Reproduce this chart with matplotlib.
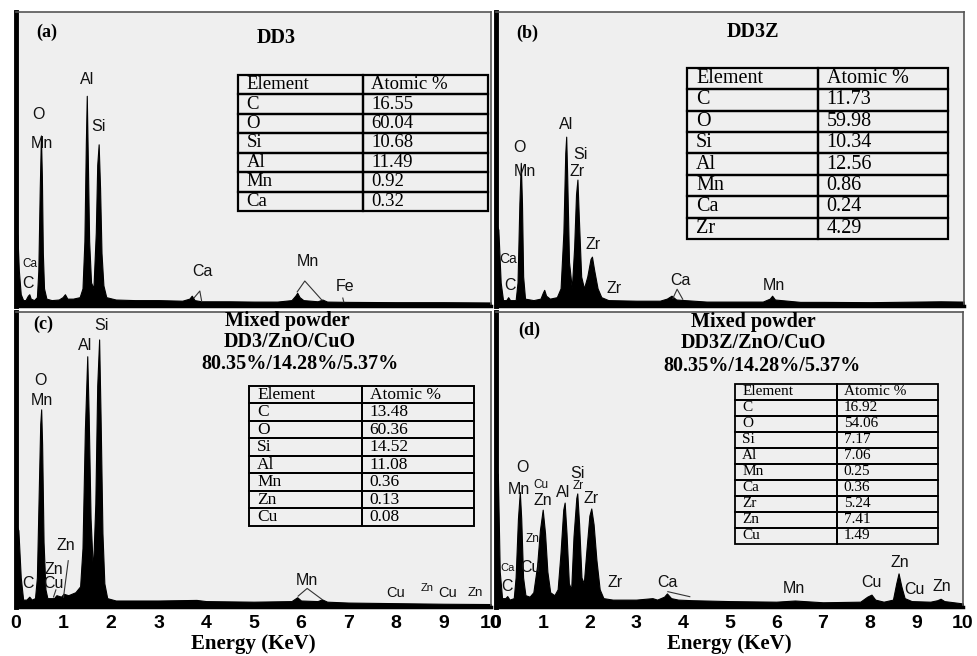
import matplotlib.pyplot as plt

plt.rcParams['font.family'] = ['Liberation Sans', 'DejaVu Sans']
SERIF = ['Liberation Serif', 'DejaVu Serif']

W, H = 977, 656

# EDS spectra, (energy keV, counts)
spec_a = [(0.0, 26), (0.03, 24), (0.06, 12), (0.10, 4), (0.15, 2), (0.20, 2), (0.25, 3.5), (0.28, 4),
          (0.31, 2.5), (0.38, 2), (0.44, 3), (0.47, 12), (0.50, 40), (0.525, 58), (0.545, 44), (0.565, 18),
          (0.59, 6), (0.64, 2.5), (0.75, 2), (0.90, 2.2), (0.98, 3), (1.03, 4), (1.08, 2.5), (1.20, 2.5),
          (1.34, 3), (1.40, 6), (1.44, 22), (1.47, 55), (1.49, 71.5), (1.51, 52), (1.54, 22), (1.58, 8),
          (1.63, 6), (1.68, 25), (1.71, 48), (1.74, 55), (1.77, 40), (1.80, 18), (1.84, 7), (1.90, 3),
          (2.1, 2.2), (2.5, 2), (3.0, 2), (3.5, 1.8), (3.65, 2.5), (3.70, 3.5), (3.76, 2), (3.9, 1.6),
          (4.5, 1.6), (5.0, 1.5), (5.5, 1.5), (5.8, 2), (5.88, 3.5), (5.92, 4.5), (5.97, 3), (6.05, 2),
          (6.35, 1.6), (6.45, 2.2), (6.55, 1.5), (7.0, 1.4), (8.0, 1.3), (9.0, 1.3), (10.0, 1.2)]
spec_b = [(0.0, 28), (0.05, 26), (0.10, 8), (0.15, 2), (0.22, 2), (0.26, 3), (0.30, 2), (0.42, 2),
          (0.46, 8), (0.50, 35), (0.53, 48.7), (0.555, 35), (0.58, 10), (0.62, 2.5), (0.80, 2), (0.95, 2.5),
          (1.0, 4.5), (1.03, 5.5), (1.07, 3.5), (1.15, 2.5), (1.30, 3), (1.38, 6), (1.44, 25), (1.48, 52),
          (1.50, 57.6), (1.52, 45), (1.56, 15), (1.62, 6), (1.67, 20), (1.71, 38), (1.74, 43), (1.77, 30),
          (1.82, 10), (1.88, 6), (1.95, 10), (2.02, 16), (2.05, 16.8), (2.10, 12), (2.17, 6), (2.25, 3),
          (2.4, 2), (3.0, 1.8), (3.5, 1.8), (3.65, 2.5), (3.75, 3.5), (3.85, 2.2), (4.5, 1.5), (5.0, 1.5),
          (5.7, 1.5), (5.85, 2.5), (5.90, 3.5), (5.96, 2.2), (6.5, 1.4), (7.0, 1.4), (8.0, 1.3), (9.0, 1.5),
          (9.5, 1.6), (10.0, 1.5)]
spec_c = [(0.0, 28), (0.05, 26), (0.10, 10), (0.15, 2.5), (0.22, 2.5), (0.28, 3.5), (0.33, 2.5), (0.40, 3),
          (0.44, 10), (0.48, 40), (0.51, 62), (0.53, 67), (0.55, 55), (0.58, 22), (0.62, 6), (0.66, 3),
          (0.80, 3), (0.85, 4), (0.95, 3.5), (1.0, 4.5), (1.10, 4), (1.25, 5), (1.35, 7), (1.40, 20),
          (1.45, 60), (1.50, 85), (1.53, 65), (1.57, 30), (1.62, 12), (1.67, 35), (1.71, 75), (1.75, 90.7),
          (1.78, 65), (1.82, 25), (1.86, 8), (1.92, 3), (2.1, 2.2), (3.0, 2.2), (3.8, 2.4), (4.0, 2),
          (5.0, 1.8), (5.8, 2), (5.92, 3.3), (6.0, 2.2), (6.35, 2), (6.44, 2.6), (6.55, 1.8), (7.0, 1.5),
          (8.0, 1.3), (9.0, 1.1), (10.0, 1.0)]
spec_d = [(0.0, 46), (0.04, 45), (0.08, 12), (0.13, 3), (0.20, 3), (0.24, 3.7), (0.29, 2.5), (0.38, 3),
          (0.42, 10), (0.47, 30), (0.51, 39), (0.54, 30), (0.58, 10), (0.63, 4), (0.72, 3.5), (0.80, 5),
          (0.88, 14), (0.94, 26), (1.0, 33), (1.05, 25), (1.10, 12), (1.16, 5), (1.25, 4), (1.32, 6),
          (1.38, 18), (1.44, 33), (1.47, 35.4), (1.51, 25), (1.56, 8), (1.61, 6), (1.66, 24), (1.72, 37),
          (1.74, 38.5), (1.78, 28), (1.83, 10), (1.88, 8), (1.94, 20), (2.0, 31), (2.04, 33.4), (2.09, 28),
          (2.15, 16), (2.22, 6), (2.3, 3), (2.5, 2.5), (3.0, 2.5), (3.35, 3), (3.45, 2.5), (3.6, 3.5),
          (3.66, 4.6), (3.75, 3), (3.9, 2.5), (4.2, 2.3), (5.0, 2), (6.0, 1.8), (6.4, 2.2), (7.0, 1.6),
          (7.8, 1.8), (7.95, 3.5), (8.04, 4.2), (8.12, 2.5), (8.3, 1.8), (8.5, 2.5), (8.57, 8), (8.62, 11.4),
          (8.68, 7), (8.75, 3), (8.9, 2), (9.3, 1.8), (9.45, 2.3), (9.52, 2.8), (9.6, 2), (10.0, 1.2)]

# peak labels: (text, keV, counts, fontsize)
labels_a = [("Al", 1.49, 77.2, 11.5), ("O", 0.48, 65.0, 11.5), ("Mn", 0.55, 55.4, 11.5),
            ("Si", 1.73, 61.2, 11.5), ("Ca", 0.29, 14.3, 8.5), ("C", 0.25, 7.5, 11.5),
            ("Ca", 3.92, 11.9, 11.5), ("Mn", 6.15, 15.3, 11.5), ("Fe", 6.93, 6.5, 11.5)]
labels_b = [("O", 0.50, 53.8, 11.5), ("Mn", 0.62, 45.9, 11.5), ("Al", 1.50, 61.6, 11.5),
            ("Si", 1.81, 51.4, 11.5), ("Zr", 1.74, 45.9, 11.5), ("Zr", 2.08, 21.0, 11.5),
            ("Ca", 0.26, 15.9, 10), ("C", 0.30, 7.1, 11.5), ("Zr", 2.52, 5.8, 11.5),
            ("Ca", 3.95, 8.6, 11.5), ("Mn", 5.93, 7.1, 11.5)]
labels_c = [("Si", 1.80, 95.3, 11.5), ("Al", 1.45, 88.5, 11.5), ("O", 0.51, 76.9, 11.5),
            ("Mn", 0.54, 69.9, 11.5), ("Zn", 1.05, 20.7, 11.5), ("Zn", 0.80, 12.8, 11.5),
            ("Cu", 0.79, 7.8, 11.5), ("C", 0.26, 7.8, 11.5), ("Mn", 6.12, 8.9, 11.5),
            ("Cu", 8.0, 4.6, 10.5), ("Zn", 8.66, 6.3, 8), ("Cu", 9.08, 4.8, 10.5), ("Zn", 9.66, 4.8, 9.5)]
labels_d = [("O", 0.56, 47.2, 11.5), ("Mn", 0.50, 39.7, 11.5), ("Cu", 0.96, 41.4, 8.5),
            ("Zn", 1.0, 36.0, 11.5), ("Al", 1.43, 38.7, 11.5), ("Si", 1.74, 45.3, 11.5),
            ("Zr", 1.76, 41.0, 8.5), ("Zr", 2.04, 36.8, 11.5), ("Zn", 0.78, 22.9, 8.5),
            ("Ca", 0.24, 13.1, 8), ("Cu", 0.73, 13.3, 11.5), ("C", 0.24, 7.1, 11.5),
            ("Zr", 2.56, 8.2, 11.5), ("Ca", 3.68, 8.2, 11.5), ("Mn", 6.37, 6.3, 11.5),
            ("Cu", 8.03, 8.2, 11.5), ("Zn", 8.65, 15.0, 11.5), ("Cu", 8.95, 6.0, 11.5),
            ("Zn", 9.54, 7.1, 11.5)]

# leader lines from labels to peaks
marks_a = [[(3.75, 2.8), (3.87, 5.1), (3.91, 1.5)], [(5.92, 4.8), (6.08, 8.5), (6.44, 2.0)],
           [(6.88, 2.7), (6.90, 1.4)]]
marks_b = [[(3.78, 2.6), (3.87, 5.7), (3.99, 2.3)]]
marks_c = [[(1.10, 15.7), (1.0, 3.3)], [(0.84, 5.8), (0.79, 3.4)],
           [(5.94, 3.7), (6.13, 6.3), (6.44, 2.6)]]
marks_d = [[(3.68, 5.2), (4.15, 3.5)]]

# composition tables
elements_a = ["C", "O", "Si", "Al", "Mn", "Ca"]
atomic_a = ["16.55", "60.04", "10.68", "11.49", "0.92", "0.32"]
elements_b = ["C", "O", "Si", "Al", "Mn", "Ca", "Zr"]
atomic_b = ["11.73", "59.98", "10.34", "12.56", "0.86", "0.24", "4.29"]
elements_c = ["C", "O", "Si", "Al", "Mn", "Zn", "Cu"]
atomic_c = ["13.48", "60.36", "14.52", "11.08", "0.36", "0.13", "0.08"]
elements_d = ["C", "O", "Si", "Al", "Mn", "Ca", "Zr", "Zn", "Cu"]
atomic_d = ["16.92", "54.06", "7.17", "7.06", "0.25", "0.36", "5.24", "7.41", "1.49"]

titles_a = ["DD3"]
titles_b = ["DD3Z"]
titles_c = ["Mixed powder", "DD3/ZnO/CuO", "80.35%/14.28%/5.37%"]
titles_d = ["Mixed powder", "DD3Z/ZnO/CuO", "80.35%/14.28%/5.37%"]

panels = [
    dict(tag="(a)", box=(16, 12, 491, 306), spec=spec_a, labels=labels_a, marks=marks_a,
         elem=elements_a, atom=atomic_a, tbl=(0.467, 0.323, 0.526, 0.463), tfs=13.5, tlw=1.6,
         titles=titles_a, tpos=[(0.547, 0.912)], tagpos=(0.065, 0.932), bottom=False),
    dict(tag="(b)", box=(496, 12, 964, 306), spec=spec_b, labels=labels_b, marks=marks_b,
         elem=elements_b, atom=atomic_b, tbl=(0.408, 0.228, 0.558, 0.582), tfs=14.5, tlw=1.6,
         titles=titles_b, tpos=[(0.549, 0.932)], tagpos=(0.066, 0.929), bottom=False),
    dict(tag="(c)", box=(16, 312, 491, 607), spec=spec_c, labels=labels_c, marks=marks_c,
         elem=elements_c, atom=atomic_c, tbl=(0.491, 0.275, 0.474, 0.475), tfs=12.5, tlw=1.4,
         titles=titles_c, tpos=[(0.571, 0.969), (0.577, 0.898), (0.598, 0.824)],
         tagpos=(0.057, 0.959), bottom=True),
    dict(tag="(d)", box=(496, 312, 963, 607), spec=spec_d, labels=labels_d, marks=marks_d,
         elem=elements_d, atom=atomic_d, tbl=(0.512, 0.214, 0.435, 0.542), tfs=11, tlw=1.3,
         titles=titles_d, tpos=[(0.552, 0.966), (0.552, 0.895), (0.57, 0.817)],
         tagpos=(0.071, 0.939), bottom=True),
]

fig = plt.figure(figsize=(W / 100, H / 100), dpi=100)

for p in panels:
    l, t, r, b = p["box"]
    ax = fig.add_axes([l / W, 1 - b / H, (r - l) / W, (b - t) / H])
    ax.set_facecolor('#efefef')
    ax.set_xlim(0, 10)
    ax.set_ylim(0, 100)

    e = [pt[0] for pt in p["spec"]]
    c = [pt[1] for pt in p["spec"]]
    ax.fill_between(e, c, 0, color='black', lw=0.8)

    for txt, x, y, fs in p["labels"]:
        ax.text(x, y, txt, fontsize=fs, ha='center', va='center', color='#111111')
    for seg in p["marks"]:
        ax.plot([s[0] for s in seg], [s[1] for s in seg], color='#333333', lw=0.8)

    ax.text(*p["tagpos"], p["tag"], transform=ax.transAxes, family=SERIF, fontweight='bold',
            fontsize=13, ha='center', va='center')
    for txt, (x, y) in zip(p["titles"], p["tpos"]):
        ax.text(x, y, txt, transform=ax.transAxes, family=SERIF, fontweight='bold',
                fontsize=14.5, ha='center', va='center')

    rows = [["Element", "Atomic %"]] + [[el, v] for el, v in zip(p["elem"], p["atom"])]
    tb = ax.table(cellText=rows, cellLoc='left', bbox=list(p["tbl"]))
    tb.auto_set_font_size(False)
    for cell in tb.get_celld().values():
        cell.set_facecolor('none')
        cell.set_linewidth(p["tlw"])
        cell.PAD = 0.07
        cell.get_text().set_fontsize(p["tfs"])
        cell.get_text().set_family(SERIF)

    ax.set_yticks([])
    for side in ('top', 'right'):
        ax.spines[side].set_color('#555555')
        ax.spines[side].set_linewidth(1.2)
    ax.spines['left'].set_linewidth(3.5)
    ax.spines['bottom'].set_linewidth(2.5)
    ax.set_xticks(range(11))
    if p["bottom"]:
        ax.tick_params(axis='x', length=0, pad=6, labelsize=14)
        for lab in ax.get_xticklabels():
            lab.set_fontweight('bold')
        ax.set_xlabel("Energy (KeV)", family=SERIF, fontweight='bold', fontsize=15, labelpad=1)
    else:
        ax.tick_params(axis='x', length=0, labelbottom=False)

fig.savefig("out.png", dpi=100)
